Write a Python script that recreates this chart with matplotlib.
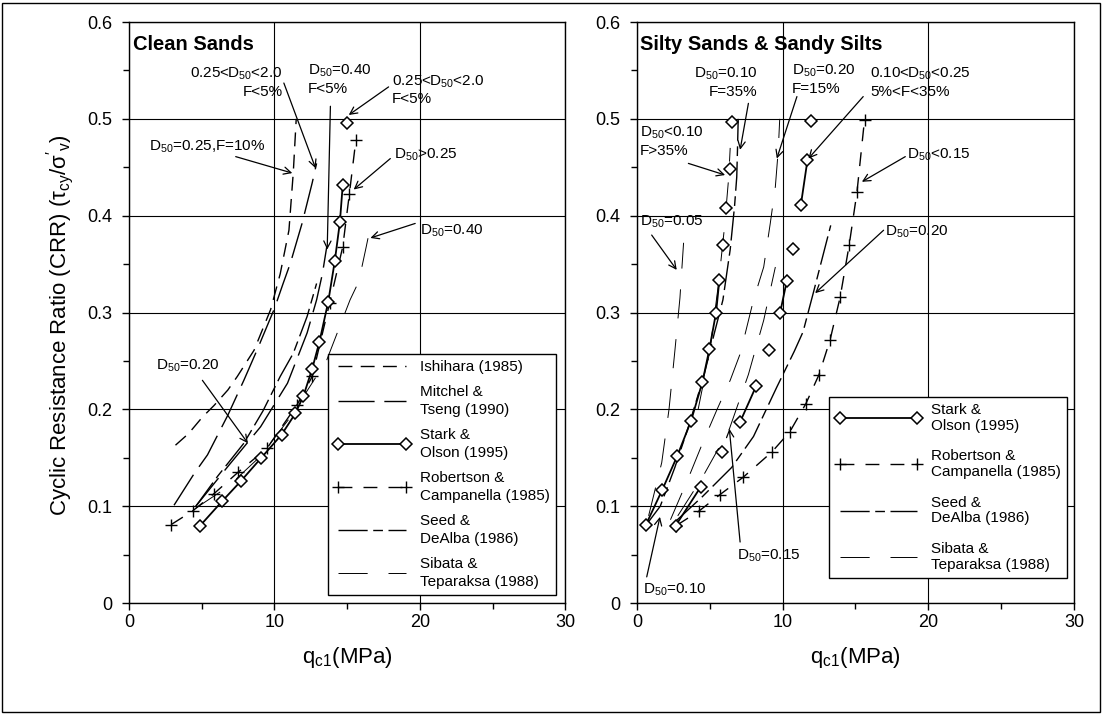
import numpy as np
import matplotlib
matplotlib.use('Agg')
import matplotlib.pyplot as plt
from matplotlib.lines import Line2D
from matplotlib.patches import Rectangle

plt.rcParams['font.family'] = ['Liberation Sans', 'DejaVu Sans']
plt.rcParams['mathtext.fontset'] = 'custom'
plt.rcParams['mathtext.rm'] = 'Liberation Sans'
plt.rcParams['mathtext.it'] = 'Liberation Sans:italic'
plt.rcParams['mathtext.bf'] = 'Liberation Sans:bold'
plt.rcParams['mathtext.default'] = 'rm'
plt.rcParams['lines.scale_dashes'] = False

# ---- clean sands (left) ----
so_l_q = [4.9, 6.4, 7.7, 9.1, 10.5, 11.45, 12.0, 12.6, 13.1, 13.7, 14.15, 14.5, 14.7, 15.0]
so_l_crr = [0.080, 0.105, 0.126, 0.150, 0.174, 0.196, 0.214, 0.242, 0.270, 0.311, 0.353, 0.393, 0.432, 0.496]

rc_l_q = [2.9, 4.37, 5.85, 7.5, 9.5, 11.57, 12.6, 13.8, 14.7, 15.15, 15.6]
rc_l_crr = [0.081, 0.095, 0.113, 0.135, 0.160, 0.205, 0.234, 0.310, 0.368, 0.422, 0.478]

ish_l_q = [3.2, 4.1, 5.05, 5.85, 6.8, 7.45, 8.6, 9.74, 10.4, 11.0, 11.3, 11.5]
ish_l_crr = [0.163, 0.175, 0.192, 0.204, 0.220, 0.234, 0.261, 0.303, 0.340, 0.385, 0.445, 0.500]

mt_a_q = [3.1, 4.5, 5.4, 6.8, 7.9, 8.8, 10.0, 10.6, 11.1, 11.9, 12.6, 12.9]
mt_a_crr = [0.101, 0.134, 0.153, 0.194, 0.230, 0.261, 0.304, 0.330, 0.351, 0.392, 0.434, 0.454]

mt_c_q = [4.6, 6.8, 9.05, 10.9, 12.25, 12.9, 13.3, 13.6]
mt_c_crr = [0.100, 0.141, 0.182, 0.227, 0.279, 0.313, 0.340, 0.368]

sd_l_q = [4.6, 6.1, 7.9, 9.2, 10.4, 11.3, 12.25, 12.9]
sd_l_crr = [0.100, 0.131, 0.165, 0.198, 0.234, 0.258, 0.296, 0.330]

st_l_q = [4.6, 6.8, 9.0, 11.0, 12.5, 13.6, 15.2, 15.8, 16.3, 16.7]
st_l_crr = [0.098, 0.120, 0.151, 0.190, 0.225, 0.251, 0.313, 0.332, 0.367, 0.396]

# ---- silty sands & sandy silts (right) ----
so_r1_q = [0.62, 1.74, 2.77, 3.71, 4.49, 4.97, 5.43, 5.66, 5.93, 6.14, 6.39, 6.55]
so_r1_crr = [0.081, 0.117, 0.152, 0.188, 0.228, 0.262, 0.300, 0.334, 0.370, 0.408, 0.448, 0.497]
so_r1_runs = [(0, 8)]

so_r2_q = [2.66, 4.38, 5.87, 7.08, 8.18, 9.03, 9.83, 10.29, 10.7, 11.25, 11.7, 11.94]
so_r2_crr = [0.080, 0.120, 0.156, 0.187, 0.224, 0.261, 0.300, 0.333, 0.366, 0.411, 0.457, 0.498]
so_r2_runs = [(0, 2), (3, 5), (6, 8), (9, 11)]

rc_r_q = [2.7, 4.26, 5.7, 7.3, 9.26, 10.5, 11.6, 12.5, 13.26, 13.95, 14.57, 15.1, 15.62]
rc_r_crr = [0.080, 0.095, 0.112, 0.130, 0.156, 0.177, 0.206, 0.236, 0.272, 0.316, 0.370, 0.424, 0.499]

sd_r1_q = [0.6, 1.6, 2.6, 3.6, 4.6, 5.3, 5.9, 6.4, 6.7, 6.85, 6.9, 6.95]
sd_r1_crr = [0.080, 0.100, 0.140, 0.185, 0.235, 0.278, 0.313, 0.365, 0.410, 0.440, 0.468, 0.500]

sd_r2_q = [2.7, 4.5, 6.5, 8.0, 9.6, 10.8, 11.4, 12.1, 12.7, 13.3]
sd_r2_crr = [0.085, 0.110, 0.140, 0.172, 0.223, 0.260, 0.280, 0.320, 0.355, 0.390]

st_r1_q = [2.3, 3.5, 4.5, 5.5, 6.4, 7.1, 8.0, 8.7, 9.15, 9.5, 9.7, 9.8]
st_r1_crr = [0.086, 0.128, 0.165, 0.200, 0.230, 0.258, 0.313, 0.347, 0.392, 0.430, 0.468, 0.500]

st_r2_q = [4.2, 5.0, 5.6, 6.0, 6.3, 6.4]
st_r2_crr = [0.200, 0.260, 0.330, 0.387, 0.440, 0.470]

st_r3_q = [0.8, 1.7, 2.2, 2.6, 2.95, 3.2]
st_r3_crr = [0.090, 0.145, 0.200, 0.260, 0.315, 0.372]

st_r4_q = [2.8, 4.5, 6.35, 7.65, 8.7, 9.5]
st_r4_crr = [0.090, 0.130, 0.180, 0.236, 0.292, 0.347]

ISH = dict(color='k', lw=1.0, ls=(0, (10, 6)))
MT = dict(color='k', lw=1.0, ls=(0, (26, 7)))
RC = dict(color='k', lw=1.0, ls=(0, (10, 8)), marker='+', ms=8, mew=1.0)
SD = dict(color='k', lw=1.0, ls=(0, (21, 4, 7, 4)))
ST = dict(color='k', lw=0.7, ls=(0, (21, 15)))
SO = dict(color='k', lw=1.3, marker='D', ms=6, mfc='white', mec='k', mew=1.1)


def draw_so(ax, q, crr, runs):
    q = np.array(q)
    crr = np.array(crr)
    for a, b in runs:
        ax.plot(q[a:b], crr[a:b], color='k', lw=1.3, zorder=3)
    ax.plot(q, crr, ls='none', marker='D', ms=6, mfc='white', mec='k', mew=1.1, zorder=4)


def note(ax, text, pos, start, tip, ha='left', va='center'):
    ax.text(pos[0], pos[1], text, ha=ha, va=va, fontsize=11, multialignment=ha,
            linespacing=1.25, zorder=6)
    ax.annotate('', xy=tip, xytext=start,
                arrowprops=dict(arrowstyle='->', lw=0.9, color='k', shrinkA=0, shrinkB=0,
                                mutation_scale=13), zorder=6)


def style_axes(ax):
    ax.set_xlim(0, 30)
    ax.set_ylim(0, 0.6)
    ax.set_xticks([0, 10, 20, 30])
    ax.set_xticks([5, 15, 25], minor=True)
    ax.set_yticks(np.arange(0, 0.61, 0.1))
    ax.set_yticks(np.arange(0.05, 0.6, 0.1), minor=True)
    ax.set_yticklabels(['0', '0.1', '0.2', '0.3', '0.4', '0.5', '0.6'])
    ax.grid(True, which='major', color='k', lw=0.8)
    ax.set_axisbelow(True)
    ax.tick_params(which='major', direction='out', length=5, width=1, labelsize=13)
    ax.tick_params(axis='x', which='major', pad=3)
    ax.tick_params(axis='y', which='major', pad=7)
    ax.tick_params(which='minor', direction='out', length=4, width=1)
    for s in ax.spines.values():
        s.set_linewidth(1.0)
    ax.set_xlabel('q$_{c1}$(MPa)', fontsize=16, labelpad=10)


def make_legend(ax, handles, labels, anchor, spacing, linesp, hlen):
    leg = ax.legend(handles, labels, loc='lower right', bbox_to_anchor=anchor, fontsize=11,
                    numpoints=2, handlelength=hlen, handletextpad=0.65, labelspacing=spacing,
                    borderpad=0.4, borderaxespad=0, fancybox=False, framealpha=1, edgecolor='k')
    leg.get_frame().set_linewidth(1.0)
    for t in leg.get_texts():
        t.set_linespacing(linesp)
    return leg


fig = plt.figure(figsize=(11.02, 7.15), dpi=100)
ax1 = fig.add_axes([0.117, 0.1566, 0.396, 0.8126])
ax2 = fig.add_axes([0.578, 0.1566, 0.3966, 0.8126])

# left panel
h_ish, = ax1.plot(ish_l_q, ish_l_crr, **ISH)
h_mt, = ax1.plot(mt_a_q, mt_a_crr, **MT)
ax1.plot(mt_c_q, mt_c_crr, **MT)
draw_so(ax1, so_l_q, so_l_crr, [(0, len(so_l_q) - 1)])
h_rc, = ax1.plot(rc_l_q, rc_l_crr, **RC)
h_sd, = ax1.plot(sd_l_q, sd_l_crr, **SD)
h_st, = ax1.plot(st_l_q, st_l_crr, **ST)
h_so = Line2D([], [], **SO)

style_axes(ax1)
ax1.text(0.009, 0.978, 'Clean Sands', transform=ax1.transAxes, ha='left', va='top',
         fontsize=14.5, fontweight='bold')

note(ax1, '0.25<D$_{50}$<2.0\nF<5%', (10.56, 0.555), (10.65, 0.537), (12.83, 0.449), ha='right', va='top')
note(ax1, 'D$_{50}$=0.40\nF<5%', (12.28, 0.558), (13.85, 0.513), (13.63, 0.365), va='top')
note(ax1, 'D$_{50}$=0.25,F=10%', (1.37, 0.471), (7.34, 0.461), (11.23, 0.444))
note(ax1, '0.25<D$_{50}$<2.0\nF<5%', (18.1, 0.547), (17.85, 0.533), (15.11, 0.504), va='top')
note(ax1, 'D$_{50}$>0.25', (18.2, 0.463), (17.97, 0.459), (15.45, 0.427))
note(ax1, 'D$_{50}$=0.40', (20.0, 0.384), (19.68, 0.392), (16.6, 0.377))
note(ax1, 'D$_{50}$=0.20', (1.85, 0.245), (5.05, 0.230), (8.18, 0.165))

make_legend(ax1, [h_ish, h_mt, h_so, h_rc, h_sd, h_st],
            ['Ishihara (1985)', 'Mitchel &\nTseng (1990)', 'Stark &\nOlson (1995)',
             'Robertson &\nCampanella (1985)', 'Seed &\nDeAlba (1986)', 'Sibata &\nTeparaksa (1988)'],
            (0.979, 0.014), 0.7, 1.38, 5.0)

# right panel
draw_so(ax2, so_r1_q, so_r1_crr, so_r1_runs)
draw_so(ax2, so_r2_q, so_r2_crr, so_r2_runs)
h_rc2, = ax2.plot(rc_r_q, rc_r_crr, **RC)
h_sd2, = ax2.plot(sd_r1_q, sd_r1_crr, **SD)
ax2.plot(sd_r2_q, sd_r2_crr, **SD)
h_st2, = ax2.plot(st_r1_q, st_r1_crr, **ST)
ax2.plot(st_r2_q, st_r2_crr, **ST)
ax2.plot(st_r3_q, st_r3_crr, **ST)
ax2.plot(st_r4_q, st_r4_crr, **ST)

style_axes(ax2)
ax2.text(0.007, 0.978, 'Silty Sands & Sandy Silts', transform=ax2.transAxes, ha='left', va='top',
         fontsize=14.5, fontweight='bold')

note(ax2, 'D$_{50}$=0.10\nF=35%', (8.25, 0.555), (7.65, 0.516), (7.08, 0.468), ha='right', va='top')
note(ax2, 'D$_{50}$=0.20\nF=15%', (10.65, 0.558), (10.98, 0.523), (9.6, 0.459), va='top')
note(ax2, '0.10<D$_{50}$<0.25\n5%<F<35%', (16.0, 0.555), (15.53, 0.523), (11.77, 0.459), va='top')
note(ax2, 'D$_{50}$<0.10\nF>35%', (0.2, 0.494), (3.53, 0.454), (6.05, 0.442), va='top')
note(ax2, 'D$_{50}$=0.05', (0.2, 0.394), (1.01, 0.380), (2.73, 0.344))
note(ax2, 'D$_{50}$<0.15', (18.56, 0.463), (18.42, 0.461), (15.44, 0.435))
note(ax2, 'D$_{50}$=0.20', (17.05, 0.383), (16.93, 0.385), (12.23, 0.320))
note(ax2, 'D$_{50}$=0.15', (6.85, 0.0486), (7.08, 0.063), (6.34, 0.180))
note(ax2, 'D$_{50}$=0.10', (0.41, 0.0134), (0.67, 0.027), (1.58, 0.089))

make_legend(ax2, [h_so, h_rc2, h_sd2, h_st2],
            ['Stark &\nOlson (1995)', 'Robertson &\nCampanella (1985)',
             'Seed &\nDeAlba (1986)', 'Sibata &\nTeparaksa (1988)'],
            (0.984, 0.043), 1.1, 1.15, 5.6)

fig.text(0.054, 0.545, "Cyclic Resistance Ratio (CRR) ($\\tau_{cy}/\\sigma'_{v}$)", rotation=90,
         ha='center', va='center', fontsize=16)

fig.patches.append(Rectangle((0.002, 0.004), 0.996, 0.992, transform=fig.transFigure,
                             fill=False, lw=1.0, ec='k'))

fig.savefig('out.png', dpi=100)
